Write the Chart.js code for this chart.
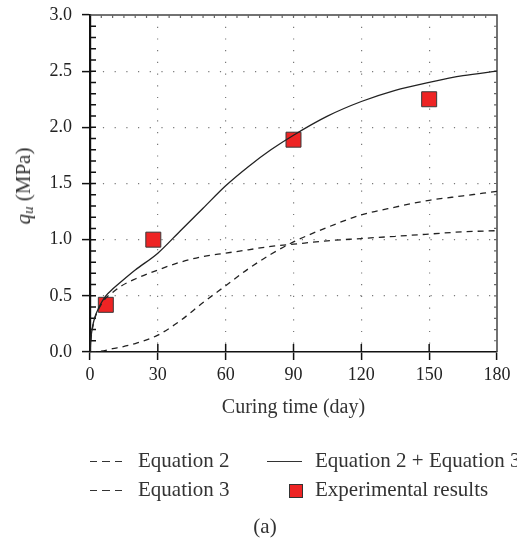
<!DOCTYPE html>
<html>
<head>
<meta charset="utf-8">
<script src="https://cdn.jsdelivr.net/npm/chart.js@4.4.1/dist/chart.umd.min.js"></script>
<style>
    html, body { margin: 0; padding: 0; background: #fff; }
    #wrap { position: relative; width: 517px; height: 542px; overflow: hidden; font-family: 'Liberation Serif', 'Times New Roman', serif; color: #222; }
    #chart { position: absolute; left: 0; top: 0; }
    .ytitle { position: absolute; left: 24px; top: 186px; transform: translate(-50%, -50%) rotate(-90deg); font-size: 21px; font-weight: normal; color: #333; white-space: nowrap; }
    .ytitle sub { font-size: 15px; vertical-align: -3px; }
    .leg { position: absolute; font-size: 21px; white-space: nowrap; line-height: 21px; color: #333; }
    .dash { position: absolute; height: 1.4px; background: repeating-linear-gradient(to right, #333 0 7px, transparent 7px 12.5px); }
    .solid { position: absolute; height: 1.4px; background: #333; }
    .sq { position: absolute; width: 12px; height: 12px; background: #ee2424; border: 1px solid #333; }
</style>
</head>
<body>
<div id="wrap">
    <canvas id="chart" width="517" height="542"></canvas>
    <div class="ytitle"><i>q</i><sub><i>u</i></sub> (MPa)</div>

    <!-- LEGEND -->
    <div class="dash" style="left:90px; top:461px; width:34px;"></div>
    <div class="leg" style="left:138px; top:450px;">Equation 2</div>
    <div class="solid" style="left:267px; top:461px; width:35px;"></div>
    <div class="leg" style="left:315px; top:450px;">Equation 2 + Equation 3</div>
    <div class="dash" style="left:90px; top:490px; width:34px;"></div>
    <div class="leg" style="left:138px; top:479px;">Equation 3</div>
    <div class="sq" style="left:289px; top:484px;"></div>
    <div class="leg" style="left:315px; top:479px;">Experimental results</div>
    <div class="leg" style="left:265px; top:516px; transform: translateX(-50%);">(a)</div>
</div>

<script>
// DATA
const days = [0, 0.5, 1, 2, 4, 7, 10, 14, 20, 30, 40, 50, 60, 70, 80, 90, 105, 120, 135, 150, 165, 180];
const equation2 = [0, 0.13, 0.2, 0.29, 0.39, 0.48, 0.53, 0.59, 0.65, 0.73, 0.8, 0.85, 0.88, 0.91, 0.94, 0.96, 0.99, 1.01, 1.03, 1.05, 1.07, 1.08];
const equation3 = [0, 0, 0, 0.001, 0.005, 0.015, 0.03, 0.045, 0.075, 0.15, 0.28, 0.44, 0.59, 0.74, 0.87, 0.98, 1.11, 1.22, 1.29, 1.35, 1.39, 1.43];
const equationSum = [0, 0.14, 0.21, 0.3, 0.4, 0.5, 0.56, 0.63, 0.73, 0.88, 1.08, 1.28, 1.48, 1.65, 1.8, 1.93, 2.1, 2.23, 2.33, 2.4, 2.46, 2.5];

const expDays = [7, 28, 90, 150];
const expStrength = [0.42, 1.0, 1.89, 2.25];

const xTicks = [0, 30, 60, 90, 120, 150, 180];
const yTicks = [0, 0.5, 1.0, 1.5, 2.0, 2.5, 3.0];

const toPoints = (xs, ys) => xs.map((x, i) => ({ x: x, y: ys[i] }));

const serif = 'Liberation Serif';

// frame + inward tick marks
const framePlugin = {
    id: 'frame',
    beforeDatasetsDraw(chart) {
        const { ctx, chartArea: a, scales: { x, y } } = chart;
        ctx.save();
        ctx.strokeStyle = '#444';
        ctx.lineWidth = 1.5;
        ctx.beginPath();
        ctx.moveTo(a.left, a.top);
        ctx.lineTo(a.right, a.top);
        ctx.lineTo(a.right, a.bottom);
        ctx.stroke();

        ctx.strokeStyle = '#111';
        ctx.beginPath();
        // minor ticks on left axis
        for (let v = 0.1; v < 2.95; v += 0.1) {
            const py = y.getPixelForValue(v);
            ctx.moveTo(a.left, py);
            ctx.lineTo(a.left + 6, py);
        }
        // major ticks on bottom axis, inward
        for (let v = 30; v < 180; v += 30) {
            const px = x.getPixelForValue(v);
            ctx.moveTo(px, a.bottom);
            ctx.lineTo(px, a.bottom - 8);
        }
        ctx.stroke();

        ctx.strokeStyle = '#666';
        ctx.lineWidth = 1.2;
        ctx.beginPath();
        for (let v = 5; v < 180; v += 5) {
            const px = x.getPixelForValue(v);
            ctx.moveTo(px, a.top);
            ctx.lineTo(px, a.top + 3);
        }
        for (let v = 0.1; v < 2.95; v += 0.1) {
            const py = y.getPixelForValue(v);
            ctx.moveTo(a.right, py);
            ctx.lineTo(a.right - 3, py);
        }
        ctx.stroke();
        ctx.restore();
    }
};

const dashedLine = {
    borderColor: '#222',
    borderWidth: 1.3,
    borderDash: [6, 5],
    pointRadius: 0,
    cubicInterpolationMode: 'monotone',
    fill: false,
};

new Chart(document.getElementById('chart'), {
    type: 'line',
    data: {
        datasets: [
            Object.assign({ label: 'Equation 2', data: toPoints(days, equation2) }, dashedLine),
            Object.assign({ label: 'Equation 3', data: toPoints(days, equation3) }, dashedLine),
            {
                label: 'Equation 2 + Equation 3',
                data: toPoints(days, equationSum),
                borderColor: '#222',
                borderWidth: 1.3,
                pointRadius: 0,
                cubicInterpolationMode: 'monotone',
                fill: false,
            },
            {
                label: 'Experimental results',
                type: 'scatter',
                data: toPoints(expDays, expStrength),
                pointStyle: 'rect',
                pointRadius: 10.6,
                pointBackgroundColor: '#ee2424',
                pointBorderColor: '#3a3a3a',
                pointBorderWidth: 1,
                showLine: false,
            },
        ]
    },
    options: {
        responsive: false,
        animation: false,
        layout: { padding: { top: 15, right: 20, bottom: 120, left: 0 } },
        plugins: {
            legend: { display: false },
            tooltip: { enabled: false },
        },
        scales: {
            x: {
                type: 'linear',
                min: 0,
                max: 180,
                afterFit: (s) => { s.height = 70; s.paddingLeft = 0; s.paddingRight = 0; },
                afterBuildTicks: (s) => { s.ticks = xTicks.map(v => ({ value: v })); },
                ticks: {
                    padding: 4,
                    color: '#222',
                    font: { family: serif, size: 18 },
                },
                grid: {
                    color: (c) => (c.tick && (c.tick.value === 0 || c.tick.value === 180)) ? 'rgba(0,0,0,0)' : '#7a7a7a',
                    lineWidth: 1.2,
                    tickColor: '#111',
                    tickLength: 8,
                    tickWidth: 1.5,
                },
                border: { color: '#111', width: 1.6, dash: [1.2, 10.5] },
                title: {
                    display: true,
                    text: 'Curing time (day)',
                    color: '#333',
                    font: { family: serif, size: 20 },
                    padding: { top: 0, bottom: 2 },
                },
            },
            y: {
                min: 0,
                max: 3,
                afterFit: (s) => { s.width = 90; s.paddingTop = 0; s.paddingBottom = 0; },
                afterBuildTicks: (s) => { s.ticks = yTicks.map(v => ({ value: v })); },
                ticks: {
                    padding: 10,
                    color: '#222',
                    font: { family: serif, size: 18 },
                    callback: (v) => v.toFixed(1),
                },
                grid: {
                    color: (c) => (c.tick && (c.tick.value === 0 || c.tick.value === 3)) ? 'rgba(0,0,0,0)' : '#7a7a7a',
                    lineWidth: 1.2,
                    tickColor: '#111',
                    tickLength: 8,
                    tickWidth: 1.5,
                },
                border: { color: '#111', width: 2.2, dash: [1.2, 10.5] },
            },
        },
    },
    plugins: [framePlugin],
});
</script>
</body>
</html>
